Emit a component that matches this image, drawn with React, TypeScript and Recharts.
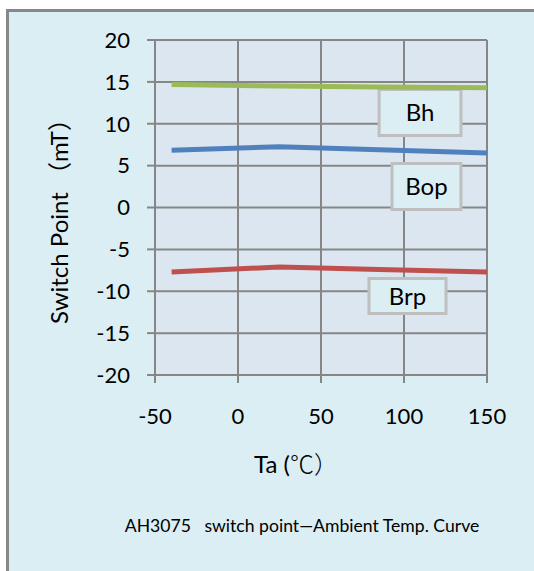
import React from 'react';
import { LineChart, Line, XAxis, YAxis, CartesianGrid, ReferenceArea } from 'recharts';

const temps = [-40, 25, 85, 150];
const bhValues = [14.7, 14.5, 14.4, 14.3];
const bopValues = [6.85, 7.25, 6.9, 6.5];
const brpValues = [-7.7, -7.1, -7.4, -7.7];
const xTicks = [-50, 0, 50, 100, 150];
const yTicks = [-20, -15, -10, -5, 0, 5, 10, 15, 20];
const yTitle = 'Switch Point （mT）';
const xTitleMain = 'Ta (';
const xTitleUnit = '℃）';
const caption = 'AH3075   switch point—Ambient Temp. Curve';

const data = temps.map((t, i) => ({ t, Bh: bhValues[i], Bop: bopValues[i], Brp: brpValues[i] }));

const FONT = "Lato, 'Noto Sans CJK SC', sans-serif";
const CJK = "'Noto Sans CJK SC', sans-serif";
const GRID = '#868686';

const renderYTitle = (props: any) => {
  const vb = props.viewBox;
  const x = vb.x + 68;
  const y = vb.y + vb.height / 2 + 8;
  return (
    <text x={x} y={y} transform={`rotate(-90, ${x}, ${y})`} textAnchor="middle" fontFamily={FONT} fontSize={24} fill="#000">
      {yTitle}
    </text>
  );
};

const renderXTitle = (props: any) => {
  const vb = props.viewBox;
  const cx = vb.x + vb.width / 2;
  return (
    <g>
      <text x={cx - 25} y={vb.y + 98} textAnchor="middle" fontFamily={FONT} fontSize={24} fill="#000">
        {xTitleMain}
        <tspan fontFamily={CJK} fontWeight={300}>{xTitleUnit}</tspan>
      </text>
      <text x={cx - 19} y={vb.y + 157} textAnchor="middle" fontFamily={FONT} fontSize={17.6} fill="#000" style={{ whiteSpace: 'pre' }}>
        {caption}
      </text>
    </g>
  );
};

const boxLabel = (text: string) => ({ value: text, position: 'center' as const, fontSize: 24, fill: '#000', fontFamily: FONT });

export default function App() {
  return (
    <div style={{ position: 'absolute', left: 0, top: 0, width: 534, height: 571, overflow: 'hidden' }}>
      <div
        style={{
          position: 'absolute',
          left: 6,
          top: 9,
          width: 600,
          height: 600,
          background: '#dbeef3',
          borderTop: '3px solid #878787',
          borderLeft: '3px solid #878787',
        }}
      />
      <div style={{ position: 'absolute', left: 0, top: 0 }}>
        <LineChart width={534} height={571} data={data} margin={{ top: 40, right: 47, bottom: 0, left: 0 }}>
          <CartesianGrid stroke={GRID} strokeWidth={2} fill="#dce6f1" fillOpacity={1} />
          <XAxis
            dataKey="t"
            type="number"
            domain={[-50, 150]}
            ticks={xTicks}
            height={196}
            tickSize={8}
            tickMargin={25}
            axisLine={{ stroke: GRID, strokeWidth: 2 }}
            tickLine={{ stroke: GRID, strokeWidth: 2 }}
            tick={{ fill: '#000', fontSize: 22, fontFamily: FONT }}
            label={renderXTitle}
          />
          <YAxis
            type="number"
            domain={[-20, 20]}
            ticks={yTicks}
            width={155}
            tickSize={8}
            tickMargin={17}
            axisLine={{ stroke: GRID, strokeWidth: 2 }}
            tickLine={{ stroke: GRID, strokeWidth: 2 }}
            tick={{ fill: '#000', fontSize: 22, fontFamily: FONT }}
            label={renderYTitle}
          />
          <Line type="linear" dataKey="Bh" stroke="#9bbb59" strokeWidth={5} dot={false} isAnimationActive={false} />
          <Line type="linear" dataKey="Bop" stroke="#4f81bd" strokeWidth={5} dot={false} isAnimationActive={false} />
          <Line type="linear" dataKey="Brp" stroke="#c0504d" strokeWidth={5} dot={false} isAnimationActive={false} />
          <ReferenceArea x1={85} x2={134.3} y1={8.6} y2={14.1} fill="#dbeef3" fillOpacity={1} stroke="#bfbfbf" strokeWidth={3} label={boxLabel('Bh')} ifOverflow="visible" />
          <ReferenceArea x1={92.8} x2={134.3} y1={-0.24} y2={5.25} fill="#dbeef3" fillOpacity={1} stroke="#bfbfbf" strokeWidth={3} label={boxLabel('Bop')} ifOverflow="visible" />
          <ReferenceArea x1={78.9} x2={125.3} y1={-12.66} y2={-8.48} fill="#dbeef3" fillOpacity={1} stroke="#bfbfbf" strokeWidth={3} label={boxLabel('Brp')} ifOverflow="visible" />
        </LineChart>
      </div>
    </div>
  );
}
